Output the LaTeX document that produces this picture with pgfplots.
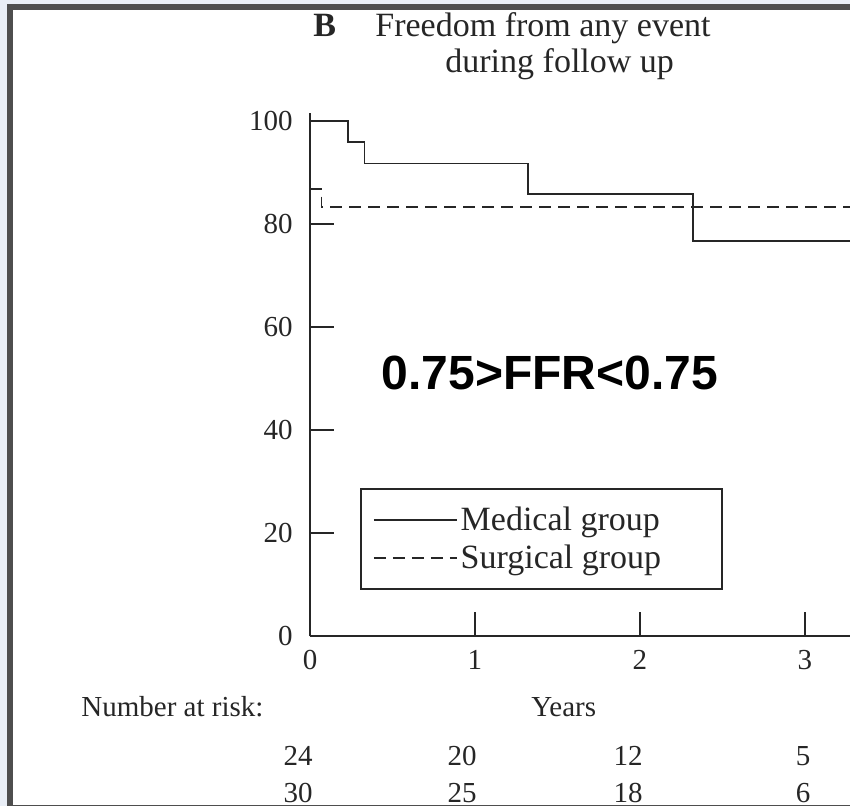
\documentclass[border=0pt]{standalone}
\usepackage{pgfplots}
\pgfplotsset{compat=1.18}
\usepackage{fontspec}
\setmainfont{Liberation Serif}
\newfontfamily\sansfont{Liberation Sans}
\definecolor{bgl}{RGB}{233,238,246}
\definecolor{frm}{RGB}{78,78,78}
\definecolor{ink}{RGB}{38,38,38}
\begin{document}
\begin{tikzpicture}
\path[use as bounding box] (0,0) rectangle (425pt,-403pt);
\fill[bgl] (0,0) rectangle (425pt,-403pt);
\fill[frm] (3.5pt,-2pt) rectangle (425pt,-403pt);
\fill[white] (6.5pt,-5pt) rectangle (425pt,-402.5pt);
\begin{axis}[
  at={(155pt,-318pt)}, anchor=south west,
  scale only axis, width=270pt, height=261.5pt,
  xmin=0, xmax=3.273, ymin=0, ymax=101.5,
  axis x line=bottom, axis y line=left,
  axis line style={-, line width=1.1pt, ink},
  xtick={0,1,2,3}, ytick={0,20,40,60,80,100},
  tick align=inside, major tick length=12pt,
  tick style={line width=1pt, ink},
  ticklabel style={font=\fontsize{14.5}{16}\selectfont, text=ink},
  /pgf/number format/assume math mode=true,
  yticklabel style={inner sep=0pt, xshift=-8.5pt},
  xticklabel style={inner sep=0pt, yshift=-7pt},
  legend style={at={(0.0926,0.283)}, anchor=north west, draw=ink, line width=0.9pt,
    fill=white, font=\fontsize{17}{19}\selectfont, inner xsep=6pt, inner ysep=7pt,
    row sep=1.5pt, nodes={inner xsep=1.5pt, inner ysep=2pt}, text=ink},
  legend cell align=left,
  legend image code/.code={\draw[#1, line width=0.9pt] (0pt,0pt) -- (41.5pt,0pt);},
]
\addplot[const plot, ink, line width=0.9pt] coordinates {
  (0,100) (0.23,95.8) (0.33,91.7) (1.32,85.8) (2.32,76.6) (3.273,76.6)};
\addlegendentry{\makebox[123pt][l]{Medical group}}
\addplot[const plot, ink, line width=0.9pt, dash pattern=on 6pt off 3.5pt] coordinates {
  (0,86.7) (0.07,83.3) (3.273,83.3)};
\addlegendentry{\makebox[123pt][l]{Surgical group}}
\end{axis}
\node[anchor=base west, font=\fontsize{17}{19}\selectfont\bfseries, text=ink, inner sep=0pt] at (156.5pt,-18.5pt) {B};
\node[anchor=base west, font=\fontsize{17}{19}\selectfont, text=ink, inner sep=0pt] at (187.5pt,-18.5pt) {Freedom from any event};
\node[anchor=base west, font=\fontsize{17}{19}\selectfont, text=ink, inner sep=0pt] at (222.5pt,-36.5pt) {during follow up};
\node[font=\sansfont\bfseries\fontsize{24}{28}\selectfont, inner sep=0pt] at (275pt,-186.5pt) {0.75>FFR<0.75};
\node[anchor=base west, font=\fontsize{14.5}{16}\selectfont, text=ink, inner sep=0pt] at (40.5pt,-358pt) {Number at risk:};
\node[anchor=base west, font=\fontsize{14.5}{16}\selectfont, text=ink, inner sep=0pt] at (265.5pt,-358pt) {Years};
\foreach \xx/\a/\b in {149/24/30, 231/20/25, 314/12/18, 401.5/5/6} {
  \node[anchor=base, font=\fontsize{14.5}{16}\selectfont, text=ink, inner sep=0pt] at (\xx pt,-382.5pt) {\a};
  \node[anchor=base, font=\fontsize{14.5}{16}\selectfont, text=ink, inner sep=0pt] at (\xx pt,-401pt) {\b};
}
\end{tikzpicture}
\end{document}
